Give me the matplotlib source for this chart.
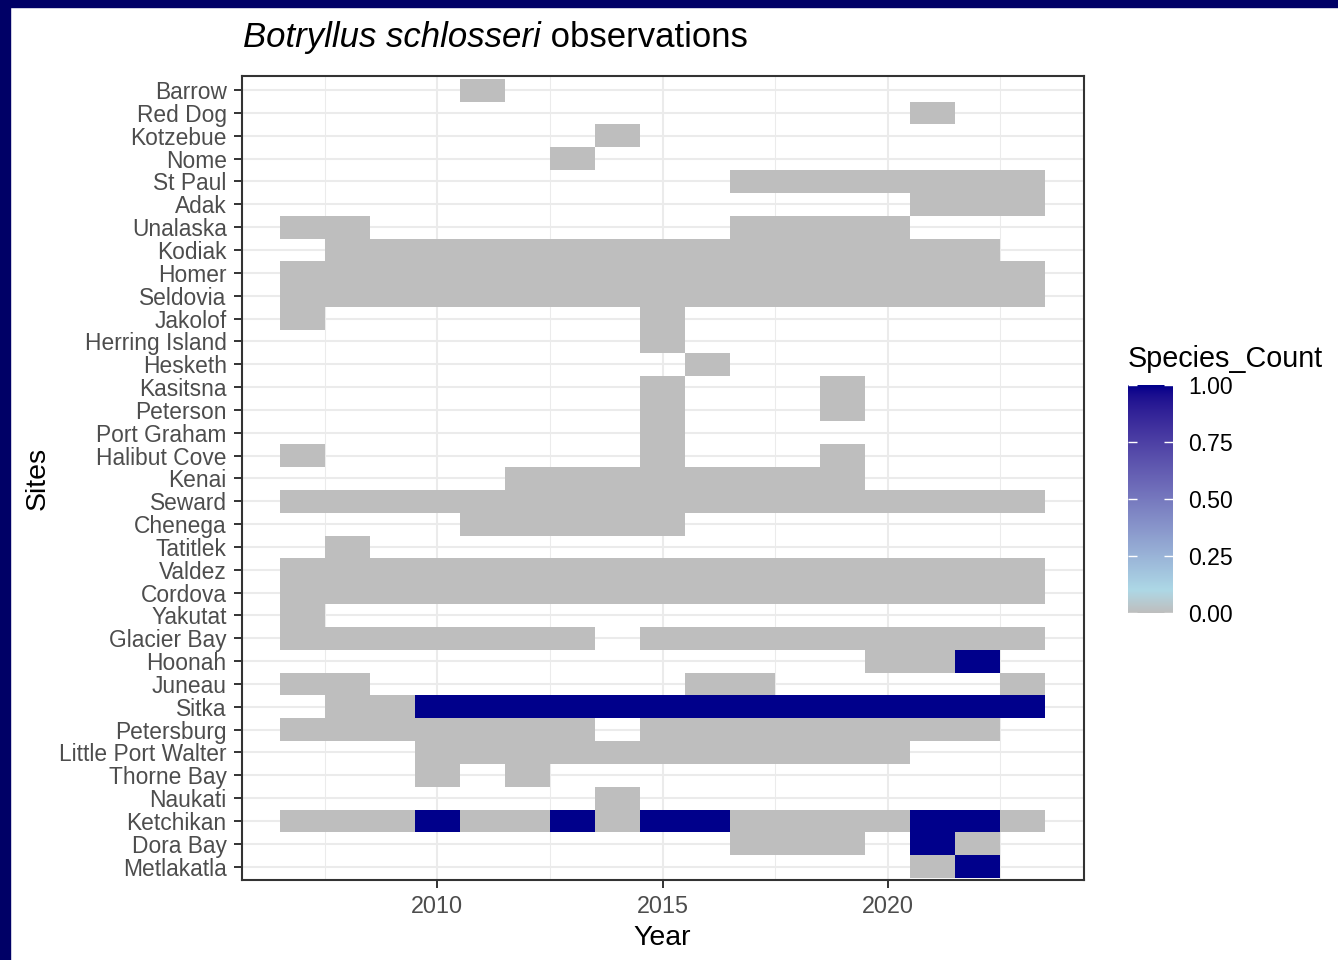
import numpy as np
import matplotlib
matplotlib.use("Agg")
import matplotlib.pyplot as plt
from matplotlib.colors import ListedColormap
from matplotlib.patches import Rectangle

plt.rcParams['font.family'] = ['Liberation Sans', 'DejaVu Sans']

# ---------------- data ----------------
sites = ["Barrow", "Red Dog", "Kotzebue", "Nome", "St Paul", "Adak", "Unalaska",
         "Kodiak", "Homer", "Seldovia", "Jakolof", "Herring Island", "Hesketh",
         "Kasitsna", "Peterson", "Port Graham", "Halibut Cove", "Kenai", "Seward",
         "Chenega", "Tatitlek", "Valdez", "Cordova", "Yakutat", "Glacier Bay",
         "Hoonah", "Juneau", "Sitka", "Petersburg", "Little Port Walter",
         "Thorne Bay", "Naukati", "Ketchikan", "Dora Bay", "Metlakatla"]

years = [2007, 2008, 2009, 2010, 2011, 2012, 2013, 2014, 2015, 2016, 2017,
         2018, 2019, 2020, 2021, 2022, 2023]

# year spans (first, last) with a survey at each site (Species_Count = 0 unless detected)
surveyed_spans = [
    [(2011, 2011)],                                  # Barrow
    [(2021, 2021)],                                  # Red Dog
    [(2014, 2014)],                                  # Kotzebue
    [(2013, 2013)],                                  # Nome
    [(2017, 2023)],                                  # St Paul
    [(2021, 2023)],                                  # Adak
    [(2007, 2008), (2017, 2020)],                    # Unalaska
    [(2008, 2022)],                                  # Kodiak
    [(2007, 2023)],                                  # Homer
    [(2007, 2023)],                                  # Seldovia
    [(2007, 2007), (2015, 2015)],                    # Jakolof
    [(2015, 2015)],                                  # Herring Island
    [(2016, 2016)],                                  # Hesketh
    [(2015, 2015), (2019, 2019)],                    # Kasitsna
    [(2015, 2015), (2019, 2019)],                    # Peterson
    [(2015, 2015)],                                  # Port Graham
    [(2007, 2007), (2015, 2015), (2019, 2019)],      # Halibut Cove
    [(2012, 2019)],                                  # Kenai
    [(2007, 2023)],                                  # Seward
    [(2011, 2015)],                                  # Chenega
    [(2008, 2008)],                                  # Tatitlek
    [(2007, 2023)],                                  # Valdez
    [(2007, 2023)],                                  # Cordova
    [(2007, 2007)],                                  # Yakutat
    [(2007, 2013), (2015, 2023)],                    # Glacier Bay
    [(2020, 2022)],                                  # Hoonah
    [(2007, 2008), (2016, 2017), (2023, 2023)],      # Juneau
    [(2008, 2023)],                                  # Sitka
    [(2007, 2013), (2015, 2022)],                    # Petersburg
    [(2010, 2020)],                                  # Little Port Walter
    [(2010, 2010), (2012, 2012)],                    # Thorne Bay
    [(2014, 2014)],                                  # Naukati
    [(2007, 2023)],                                  # Ketchikan
    [(2017, 2019), (2021, 2022)],                    # Dora Bay
    [(2021, 2022)],                                  # Metlakatla
]

# year spans where Botryllus schlosseri was observed (Species_Count = 1)
detected_spans = {
    "Hoonah": [(2022, 2022)],
    "Sitka": [(2010, 2023)],
    "Ketchikan": [(2010, 2010), (2013, 2013), (2015, 2016), (2021, 2022)],
    "Dora Bay": [(2021, 2021)],
    "Metlakatla": [(2022, 2022)],
}

legend_ticks = [0.0, 0.25, 0.5, 0.75, 1.0]
x_major = [2010, 2015, 2020]

# ---------------- build matrix ----------------
n = len(sites)
yr = np.array(years)
Z = np.full((n, len(years)), np.nan)
for i, spans in enumerate(surveyed_spans):
    for a, b in spans:
        Z[i, (yr >= a) & (yr <= b)] = 0.0
    for a, b in detected_spans.get(sites[i], []):
        Z[i, (yr >= a) & (yr <= b)] = 1.0

# ---------------- colormap (Lab interpolation like ggplot) ----------------
def _srgb_to_lin(c):
    c = np.asarray(c, float)
    return np.where(c <= 0.04045, c / 12.92, ((c + 0.055) / 1.055) ** 2.4)

def _lin_to_srgb(c):
    c = np.clip(c, 0, 1)
    return np.where(c <= 0.0031308, 12.92 * c, 1.055 * c ** (1 / 2.4) - 0.055)

M = np.array([[0.4124, 0.3576, 0.1805],
              [0.2126, 0.7152, 0.0722],
              [0.0193, 0.1192, 0.9505]])
WP = np.array([0.95047, 1.0, 1.08883])

def rgb2lab(rgb):
    xyz = M @ _srgb_to_lin(rgb) / WP
    f = np.where(xyz > 0.008856, np.cbrt(xyz), 7.787 * xyz + 16 / 116)
    return np.array([116 * f[1] - 16, 500 * (f[0] - f[1]), 200 * (f[1] - f[2])])

def lab2rgb(lab):
    fy = (lab[0] + 16) / 116
    fx = fy + lab[1] / 500
    fz = fy - lab[2] / 200
    f = np.array([fx, fy, fz])
    xyz = np.where(f ** 3 > 0.008856, f ** 3, (f - 16 / 116) / 7.787) * WP
    return _lin_to_srgb(np.linalg.inv(M) @ xyz)

def hex2rgb(h):
    h = h.lstrip('#')
    return np.array([int(h[k:k + 2], 16) / 255 for k in (0, 2, 4)])

nodes = [0.0, 0.1, 1.0]
node_cols = [rgb2lab(hex2rgb(c)) for c in ("#BEBEBE", "#ADD8E6", "#00008B")]
cols = []
for v in np.linspace(0, 1, 256):
    j = 0 if v <= nodes[1] else 1
    t = (v - nodes[j]) / (nodes[j + 1] - nodes[j])
    lab = node_cols[j] * (1 - t) + node_cols[j + 1] * t
    cols.append(lab2rgb(lab))
cmap = ListedColormap(np.clip(np.array(cols), 0, 1))

# ---------------- figure ----------------
W, H = 1338, 960
fig = plt.figure(figsize=(W / 100, H / 100), dpi=100)
fig.patch.set_facecolor("white")

# navy frame (top and left)
fig.patches.append(Rectangle((0, 1 - 7 / H), 1, 7 / H, transform=fig.transFigure,
                             color="#000066", zorder=0))
fig.patches.append(Rectangle((0, 0), 10 / W, 1, transform=fig.transFigure,
                             color="#000066", zorder=0))

L, R, T, B = 241.5, 1083.5, 76.4, 880.4
ax = fig.add_axes([L / W, 1 - B / H, (R - L) / W, (B - T) / H])
xedges = np.append(yr - 0.5, yr[-1] + 0.5)
yedges = np.arange(0.5, n + 1.0, 1.0)
ax.pcolormesh(xedges, yedges, np.ma.masked_invalid(Z[::-1]), cmap=cmap,
              vmin=0, vmax=1, shading='flat', edgecolors='none',
              antialiased=False, linewidth=0, zorder=2)

span = yr[-1] - yr[0] + 1
ax.set_xlim(yr[0] - 0.5 - 0.05 * span, yr[-1] + 0.5 + 0.05 * span)
ax.set_ylim(0.4, n + 0.6)

ax.set_xticks(x_major)
ax.set_xticklabels([str(v) for v in x_major])
ax.set_xticks([v + 2.5 for v in [2005, 2010, 2015, 2020]], minor=True)
ax.set_yticks(np.arange(n, 0, -1))
ax.set_yticklabels(sites)

ax.set_axisbelow(True)
ax.grid(which='major', color="#EBEBEB", linewidth=1.5)
ax.grid(which='minor', axis='x', color="#EBEBEB", linewidth=0.75)
ax.tick_params(which='major', length=5.7, width=1.4, color="#333333",
               labelsize=16.4, labelcolor="#4D4D4D")
ax.tick_params(axis='y', pad=5)
ax.tick_params(axis='x', pad=5, labelsize=16.8)
ax.tick_params(which='minor', length=0)
for s in ax.spines.values():
    s.set_color("#333333")
    s.set_linewidth(1.5)
    s.set_zorder(5)

fig.text(662 / W, 1 - 945 / H, "Year", ha='center', va='baseline', fontsize=20.5)
fig.text(38 / W, 1 - 478 / H, "Sites", ha='center', va='center', rotation=90,
         fontsize=20.5)

# title: italic species name + plain text
t1 = fig.text(243 / W, 1 - 47 / H, "Botryllus schlosseri", style='italic',
              fontsize=25, va='baseline', ha='left')
fig.canvas.draw()
bb = t1.get_window_extent(renderer=fig.canvas.get_renderer())
fig.text(bb.x1 / W, 1 - 47 / H, " observations", fontsize=25, va='baseline',
         ha='left')

# colour bar legend
cax = fig.add_axes([1128 / W, 1 - 613 / H, 45 / W, (613 - 385) / H])
cax.imshow(np.linspace(0, 1, 256).reshape(-1, 1), cmap=cmap, origin='lower',
           extent=[0, 1, 0, 1], aspect='auto', interpolation='bilinear')
cax.hlines(legend_ticks, 0, 0.2, colors='white', linewidth=1.0)
cax.hlines(legend_ticks, 0.8, 1, colors='white', linewidth=1.0)
cax.set_xlim(0, 1)
cax.set_ylim(0, 1)
cax.set_xticks([])
cax.yaxis.tick_right()
cax.set_yticks(legend_ticks)
cax.set_yticklabels([f"{v:.2f}" for v in legend_ticks])
cax.tick_params(axis='y', length=0, pad=11, labelsize=16.6, labelcolor="black")
for s in cax.spines.values():
    s.set_visible(False)
fig.text(1128 / W, 1 - 367 / H, "Species_Count", fontsize=20.7, va='baseline',
         ha='left')

fig.savefig("out.png", dpi=100, facecolor="white")
